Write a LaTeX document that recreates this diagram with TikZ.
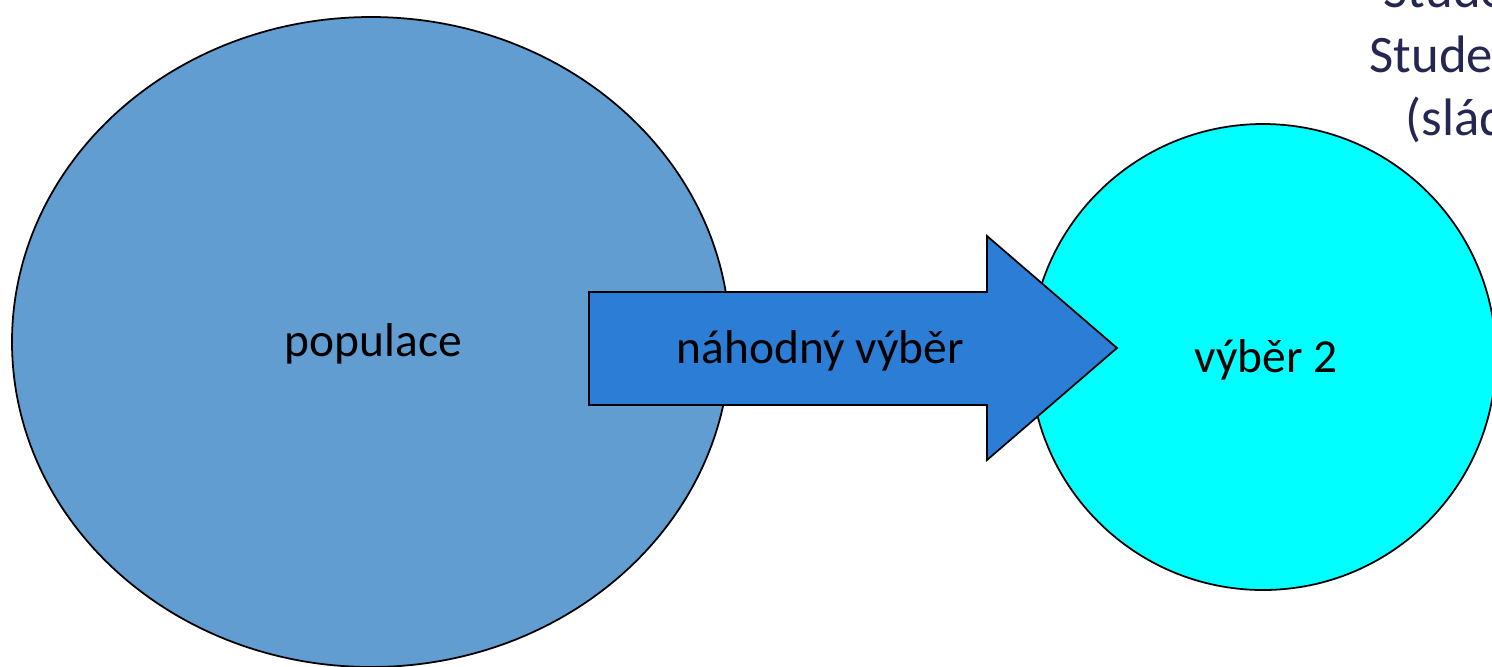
\documentclass[tikz,border=0pt]{standalone}
\usepackage{fontspec}
\setmainfont{Carlito}
\usetikzlibrary{positioning}
\usetikzlibrary{shapes.geometric}
\definecolor{popblue}{RGB}{97,157,208}
\definecolor{arrblue}{RGB}{43,125,213}
\definecolor{sampcyan}{RGB}{0,255,255}
\definecolor{navytext}{RGB}{38,38,82}
\tikzset{blob/.style = {draw, line width = 0.5pt, inner sep = 0}}
\tikzset{lbl/.style = {anchor = base, inner sep = 0, font = \fontsize{13.5}{16}\selectfont}}
\tikzset{side/.style = {anchor = base west, inner sep = 0, text = navytext, font = \fontsize{15}{18}\selectfont}}

\begin{document}
\begin{tikzpicture}
      \useasboundingbox (0, 0) rectangle (14.92, -6.66);
      \clip (0, 0) rectangle (14.92, -6.66);
      \node [blob, ellipse, fill=popblue, minimum width = 7.18cm, minimum height = 6.50cm] (pop) at (3.71, -3.42) {};
      \node [blob, circle, fill=sampcyan, minimum size = 4.66cm] (samp) at (12.63, -3.57) {};
      \draw [line width = 0.5pt, fill=arrblue] (5.89, -2.92) -- (9.87, -2.92) -- (9.87, -2.36) -- (11.17, -3.48)
        -- (9.87, -4.60) -- (9.87, -4.05) -- (5.89, -4.05) -- cycle;
      \node [lbl] (popl) at (3.735, -3.56) {populace};
      \node [lbl] (arrl) at (8.205, -3.63) {náhodný výběr};
      \node [lbl] (sampl) at (12.66, -3.72) {výběr 2};
      \node [side] (t1) at (13.83, -0.07) {Stude};
      \node [side] (t2) at (13.69, -0.72) {Stude};
      \node [side] (t3) at (14.05, -1.35) {(slád};
    \end{tikzpicture}
\end{document}
